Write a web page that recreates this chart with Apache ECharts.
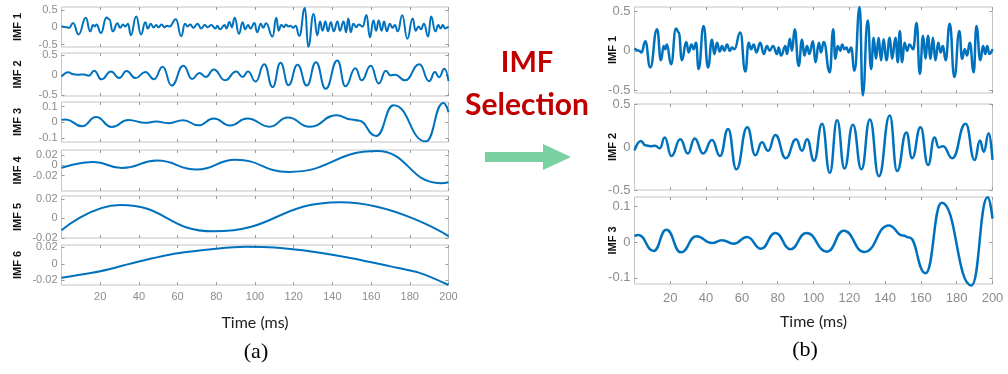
<!DOCTYPE html>
<html>
<head>
<meta charset="utf-8">
<script src="https://cdn.jsdelivr.net/npm/echarts@6/dist/echarts.min.js"></script>
<style>
  html, body { margin: 0; padding: 0; background: #fff; }
  #chart { width: 1008px; height: 374px; }
</style>
</head>
<body>
<div id="chart"></div>
<script>
// Time axis ticks (ms)
const timeTicks = [20, 40, 60, 80, 100, 120, 140, 160, 180, 200];

// Intrinsic mode functions, listed as [time (ms), amplitude] at turning points
const imf1 = [
  [0, 0.03], [2.5, 0], [4, -0.02], [6, 0.12], [8.8, -0.21], [12.6, 0.27], [14.8, -0.12],
  [16.3, 0.06], [17.2, 0.02], [18.1, 0.08], [20.4, -0.17], [23.2, 0.28], [24.7, 0.23],
  [26.5, -0.12], [28.9, 0.11], [30.3, -0.02], [31.8, 0.08], [33, 0.02], [34.4, 0.10],
  [35.8, -0.23], [38.6, 0.31], [41.1, -0.21], [43.3, 0.14], [44.6, -0.04], [46.1, 0.10],
  [47.6, -0.01], [48.9, 0.06], [50.2, 0], [51.7, 0.08], [53.2, 0], [54.5, 0.04],
  [55.8, 0.02], [59.1, 0.23], [61.9, -0.26], [63.8, 0.10], [65.1, 0.02], [66.6, 0.08],
  [68.1, -0.02], [70.3, 0.10], [72.2, -0.04], [74, 0.06], [75.5, 0], [77.4, 0.06],
  [79.6, -0.04], [80.5, 0.04], [81.9, -0.06], [84.3, 0.06], [85.2, -0.04], [86.8, 0.15],
  [88, 0.0], [89.5, 0.27], [91.7, -0.19], [93.6, 0.14], [94.9, -0.06], [96.4, 0.06],
  [97.7, -0.04], [99.7, 0.12], [101.1, -0.145], [103, 0.10], [104.2, -0.02], [105.7, 0.11],
  [109.1, -0.27], [111, 0.27], [112.2, -0.10], [113.5, 0.06], [115, 0], [116, 0.08],
  [117.3, 0.02], [118.4, 0.04], [119.7, -0.02], [121, 0.04], [122.9, -0.25], [125.8, 0.55],
  [127.5, -0.56], [130.3, 0.38], [132.2, -0.23], [133.6, 0.165], [134.9, -0.10],
  [136.4, 0.165], [137.7, -0.12], [139.2, 0.145], [140.7, -0.12], [142.6, 0.165],
  [143.9, -0.10], [145.8, 0.165], [147.1, -0.145], [148.2, 0.25], [149.5, -0.145],
  [150.8, 0.10], [152.3, 0], [153.6, 0.08], [155.7, 0.02], [157.6, 0.35], [159.4, -0.29],
  [161.2, 0.19], [162.6, -0.10], [163.9, 0.19], [165.4, -0.10], [166.7, 0.165],
  [168.1, -0.12], [169.7, 0.10], [171, -0.02], [172.3, 0.06], [173.8, -0.12], [176.1, 0.34],
  [178.7, -0.33], [181.5, 0.25], [183, -0.10], [184.5, 0.02], [185.8, -0.06], [187.3, 0.10],
  [189.5, -0.27], [191, 0.31], [193.2, -0.12], [194.7, 0.06], [196, -0.04], [197, 0.06],
  [198.3, -0.04], [200, 0.02]
];

const imf2 = [
  [0, -0.04], [3.6, 0.07], [6, 0.02], [8.8, 0.01], [11.6, 0.015], [14.1, -0.015],
  [16.9, 0.11], [20.6, -0.105], [25.6, 0.09], [29.8, -0.075], [33.6, 0.10], [38.3, -0.075],
  [43.3, 0.08], [47.8, -0.105], [52.3, 0.21], [56.9, -0.26], [63, 0.23], [67.5, -0.095],
  [71.2, 0.055], [74.6, -0.045], [78.7, 0.14], [84.5, -0.13], [90.3, 0.09], [93.6, -0.045],
  [96.4, 0.09], [100.3, -0.16], [104.8, 0.27], [109.1, -0.30], [113.2, 0.31], [117.3, -0.25],
  [122, 0.26], [126.8, -0.26], [131.5, 0.32], [136.5, -0.34], [142.6, 0.365], [146.7, -0.28],
  [151.9, 0.17], [155.1, -0.13], [159.8, 0.23], [164, -0.21], [167.6, 0.11], [170, -0.005],
  [172.4, 0.01], [177.5, -0.13], [185, 0.27], [190, -0.15], [193, 0.075], [195.1, -0.055],
  [197.9, 0.16], [200, -0.15]
];

const imf3 = [
  [0, 0.016], [2.2, 0.019], [10.7, -0.025], [17.8, 0.034], [26, -0.029], [34.5, 0.016],
  [43.3, -0.003], [48.9, 0.005], [55.4, -0.005], [62.9, 0.014], [70.7, -0.019],
  [78.7, 0.025], [87.1, -0.02], [96, 0.025], [107.6, -0.027], [116.9, 0.031],
  [128.4, -0.028], [142.1, 0.046], [150, 0.018], [153.5, 0.012], [162.6, -0.087],
  [171.6, 0.109], [188.3, -0.121], [197.3, 0.124], [200, 0.065]
];

const imf4 = [
  [0, -0.005], [16.6, 0.0067], [31.2, -0.0053], [49.3, 0.0093], [70, -0.008],
  [89.9, 0.011], [117.4, -0.0127], [163.1, 0.028], [195.9, -0.0347], [200, -0.033]
];

const imf5 = [
  [0, -0.012], [30.4, 0.0139], [78.6, -0.0132], [144.2, 0.0167], [200, -0.018]
];

const imf6 = [
  [0, -0.017], [20, -0.0092], [40, 0.0028], [60, 0.0128], [80, 0.0184], [95, 0.0208],
  [110, 0.02], [130, 0.0148], [150, 0.0068], [170, -0.0032], [185, -0.0112], [200, -0.026]
];

// Y tick values per panel
const ticksHalf = [-0.5, 0, 0.5];
const ticksTenth = [-0.1, 0, 0.1];
const ticksSmall = [-0.02, 0, 0.02];

const BLUE = '#0072BD';
const BOX = '#c4c4c4';
const TICK_TXT = '#8c8c8c';
const SANS = 'Liberation Sans';

const panels = [
  // left column (a)
  { name: 'IMF 1', data: imf1, ticks: ticksHalf, min: -0.57, max: 0.58, left: 61.5, top: 7, width: 387, height: 40, xLabels: false, lw: 2, nameGap: 38, fs: 11 },
  { name: 'IMF 2', data: imf2, ticks: ticksHalf, min: -0.52, max: 0.55, left: 61.5, top: 53, width: 387, height: 43, xLabels: false, lw: 2, nameGap: 38, fs: 11 },
  { name: 'IMF 3', data: imf3, ticks: ticksTenth, min: -0.125, max: 0.13, left: 61.5, top: 102, width: 387, height: 40, xLabels: false, lw: 2, nameGap: 38, fs: 11 },
  { name: 'IMF 4', data: imf4, ticks: ticksSmall, min: -0.05, max: 0.03, left: 61.5, top: 150, width: 387, height: 41, xLabels: false, lw: 2, nameGap: 38, fs: 11 },
  { name: 'IMF 5', data: imf5, ticks: ticksSmall, min: -0.02, max: 0.023, left: 61.5, top: 196, width: 387, height: 42, xLabels: false, lw: 2, nameGap: 38, fs: 11 },
  { name: 'IMF 6', data: imf6, ticks: ticksSmall, min: -0.026, max: 0.023, left: 61.5, top: 245, width: 387, height: 40, xLabels: true, lw: 2, nameGap: 38, fs: 11, plain: true },
  // right column (b)
  { name: 'IMF 1', data: imf1, ticks: ticksHalf, min: -0.53, max: 0.55, left: 634.5, top: 7, width: 358, height: 86, xLabels: false, lw: 2.5, nameGap: 16, fs: 13 },
  { name: 'IMF 2', data: imf2, ticks: ticksHalf, min: -0.5, max: 0.5, left: 634.5, top: 104, width: 358, height: 86, xLabels: false, lw: 2.5, nameGap: 16, fs: 13 },
  { name: 'IMF 3', data: imf3, ticks: ticksTenth, min: -0.117, max: 0.125, left: 634.5, top: 197, width: 358, height: 87, xLabels: true, lw: 2.5, nameGap: 16, fs: 13 }
];

const grid = [], xAxis = [], yAxis = [], series = [];
const fmt = v => (v === 0 ? '0' : String(v));
const noLine = { show: false, onZero: false };

panels.forEach((p, i) => {
  grid.push({
    left: p.left, top: p.top, width: p.width, height: p.height,
    show: true, borderColor: BOX, borderWidth: 1, backgroundColor: '#fff',
    containLabel: false, outerBoundsMode: 'none'
  });
  const tick = { show: true, inside: true, length: 3, lineStyle: { color: '#9a9a9a', width: 1 }, customValues: timeTicks };
  xAxis.push({
    type: 'value', gridIndex: i, min: 0, max: 200, position: 'bottom',
    axisLine: noLine, splitLine: { show: false },
    axisTick: tick,
    axisLabel: {
      show: p.xLabels, customValues: timeTicks, color: TICK_TXT, fontFamily: SANS,
      fontSize: p.fs, margin: p.fs === 13 ? 8 : 6, hideOverlap: false, interval: 0
    },
    name: p.xLabels ? 'Time (ms)' : '', nameLocation: 'middle', nameGap: 30,
    nameTextStyle: { fontFamily: 'Lato', fontSize: 16, color: '#222' }
  });
  xAxis.push({
    type: 'value', gridIndex: i, min: 0, max: 200, position: 'top',
    axisLine: noLine, splitLine: { show: false },
    axisTick: tick, axisLabel: { show: false }
  });
  const yTick = { show: true, inside: true, length: 3, lineStyle: { color: '#9a9a9a', width: 1 }, customValues: p.ticks };
  const labelStyle = {
    formatter: fmt, color: TICK_TXT, fontFamily: SANS, fontSize: p.fs,
    lineHeight: 8, margin: 4, hideOverlap: false, interval: 0
  };
  // left axis: outer tick labels, ticks and the panel name
  yAxis.push({
    type: 'value', gridIndex: i, min: p.min, max: p.max, position: 'left',
    axisLine: noLine, splitLine: { show: false },
    axisTick: yTick,
    axisLabel: Object.assign({ customValues: p.ticks.filter(v => v !== 0) }, labelStyle),
    name: p.name, nameLocation: 'middle', nameGap: p.nameGap, nameMoveOverlap: false,
    nameTextStyle: { fontFamily: SANS, fontWeight: 'bold', fontSize: 11, color: '#111' }
  });
  // right axis: mirrored ticks
  yAxis.push({
    type: 'value', gridIndex: i, min: p.min, max: p.max, position: 'right',
    axisLine: noLine, splitLine: { show: false },
    axisTick: yTick, axisLabel: { show: false }
  });
  // left axis carrying the zero label
  yAxis.push({
    type: 'value', gridIndex: i, min: p.min, max: p.max, position: 'left',
    axisLine: noLine, splitLine: { show: false }, axisTick: { show: false },
    axisLabel: Object.assign({ customValues: [0] }, labelStyle)
  });
  series.push({
    type: 'line', xAxisIndex: 2 * i, yAxisIndex: 3 * i, data: p.data,
    showSymbol: false, symbol: 'none', clip: false,
    smooth: p.plain ? 0.3 : 0.5, smoothMonotone: p.plain ? undefined : 'x',
    lineStyle: { color: BLUE, width: p.lw }
  });
});

const chart = echarts.init(document.getElementById('chart'), null, { renderer: 'canvas' });
chart.setOption({
  animation: false,
  backgroundColor: '#fff',
  grid, xAxis, yAxis, series,
  graphic: [
    { type: 'text', style: { text: 'IMF', x: 527, y: 63, align: 'center', verticalAlign: 'middle', fill: '#c00000', font: 'bold 29px Lato' } },
    { type: 'text', style: { text: 'Selection', x: 527, y: 105, align: 'center', verticalAlign: 'middle', fill: '#c00000', font: 'bold 30px Lato' } },
    { type: 'polygon', shape: { points: [[485, 152], [543, 152], [543, 144], [571, 157], [543, 170], [543, 162], [485, 162]] }, style: { fill: '#79d1a2' } },
    { type: 'text', style: { text: '(a)', x: 256, y: 352, align: 'center', verticalAlign: 'middle', fill: '#000', font: '22px "Liberation Serif"' } },
    { type: 'text', style: { text: '(b)', x: 805, y: 350, align: 'center', verticalAlign: 'middle', fill: '#000', font: '22px "Liberation Serif"' } }
  ]
});
</script>
</body>
</html>
